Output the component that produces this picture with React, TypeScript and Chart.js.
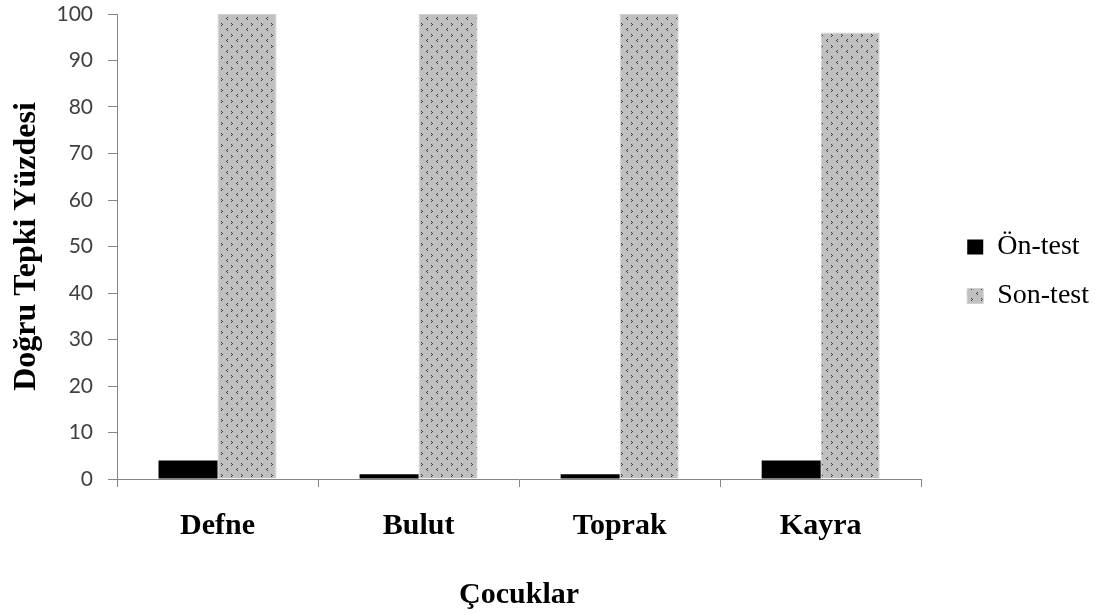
import React, { useEffect, useRef } from "react";
import { Chart, registerables } from "chart.js";

Chart.register(...registerables);

const categories = ["Defne", "Bulut", "Toprak", "Kayra"];
const seriesNames = ["Ön-test", "Son-test"];
const onTest = [4, 1, 1, 4];
const sonTest = [100, 100, 100, 96];
const yTicks = [0, 10, 20, 30, 40, 50, 60, 70, 80, 90, 100];
const yTitle = "Doğru Tepki Yüzdesi";
const xTitle = "Çocuklar";

function makePattern(): CanvasPattern | string {
  const tile = document.createElement("canvas");
  tile.width = 10;
  tile.height = 11;
  const c = tile.getContext("2d");
  if (!c) return "#c0c0c0";
  c.fillStyle = "#c0c0c0";
  c.fillRect(0, 0, 10, 11);
  c.fillStyle = "#3a3a3a";
  // ">" mark
  c.fillRect(1, 1, 1, 1);
  c.fillRect(2, 2, 1, 1);
  c.fillRect(1, 3, 1, 1);
  // "<" mark
  c.fillRect(7, 6, 1, 1);
  c.fillRect(6, 7, 1, 1);
  c.fillRect(7, 8, 1, 1);
  const main = document.createElement("canvas").getContext("2d");
  const p = main ? main.createPattern(tile, "repeat") : null;
  return p || "#c0c0c0";
}

export default function App() {
  const ref = useRef<HTMLCanvasElement | null>(null);
  useEffect(() => {
    if (!ref.current) return;
    const pattern = makePattern();
    const axisColor = "#868686";
    const chart = new Chart(ref.current, {
      type: "bar",
      data: {
        labels: categories,
        datasets: [
          {
            label: seriesNames[0],
            data: onTest,
            backgroundColor: "#000000",
            borderWidth: 0,
            categoryPercentage: 0.587,
            barPercentage: 1,
          },
          {
            label: seriesNames[1],
            data: sonTest,
            backgroundColor: pattern as any,
            borderColor: "#cfcfcf",
            borderWidth: 1,
            categoryPercentage: 0.587,
            barPercentage: 1,
          },
        ],
      },
      options: {
        animation: false,
        responsive: true,
        maintainAspectRatio: false,
        layout: { padding: { top: 14, left: 0, right: 8, bottom: 0 } },
        plugins: {
          tooltip: { enabled: false },
          legend: {
            position: "right",
            fullSize: false,
            maxWidth: 161,
            title: { display: true, text: "", font: { size: 20 }, padding: 13 },
            labels: {
              color: "#000000",
              font: { family: "'Liberation Serif', 'Times New Roman', serif", size: 28 },
              boxWidth: 16,
              boxHeight: 15,
              padding: 21,
            },
          },
        },
        scales: {
          x: {
            position: "bottom",
            grid: {
              display: true,
              drawOnChartArea: false,
              drawTicks: true,
              tickLength: 8,
              color: axisColor,
              offset: true,
            },
            border: { display: true, color: axisColor, width: 1 },
            ticks: {
              color: "#000000",
              padding: 21,
              font: { family: "'Liberation Serif', 'Times New Roman', serif", size: 30, weight: "bold" },
            },
            title: {
              display: true,
              text: xTitle,
              color: "#000000",
              padding: { top: 0, bottom: 2 },
              font: { family: "'Liberation Serif', 'Times New Roman', serif", size: 30, weight: "bold" },
            },
            afterFit: (s: any) => {
              s.height = 136;
            },
          },
          y: {
            position: "left",
            min: 0,
            max: 100,
            afterBuildTicks: (s: any) => {
              s.ticks = yTicks.map((v) => ({ value: v }));
            },
            grid: {
              display: true,
              drawOnChartArea: false,
              drawTicks: true,
              tickLength: 9,
              color: axisColor,
            },
            border: { display: true, color: axisColor, width: 1 },
            ticks: {
              color: "#404040",
              padding: 15,
              font: { family: "Lato, 'Open Sans', sans-serif", size: 21 },
            },
            title: {
              display: true,
              text: yTitle,
              color: "#000000",
              padding: { top: 8, bottom: 0 },
              font: { family: "'Liberation Serif', 'Times New Roman', serif", size: 32, weight: "bold" },
            },
            afterFit: (s: any) => {
              s.width = 117;
              s.paddingTop = 13;
              s.paddingBottom = 13;
            },
          },
          pad: {
            type: "linear",
            position: "right",
            display: true,
            grid: { display: false },
            border: { display: false },
            ticks: { display: false },
            afterFit: (s: any) => {
              s.width = 25;
              s.paddingTop = 0;
              s.paddingBottom = 0;
            },
          },
        },
      } as any,
    });
    return () => chart.destroy();
  }, []);
  return (
    <div style={{ position: "fixed", left: 0, top: 0, width: 1107, height: 615, background: "#ffffff" }}>
      <canvas ref={ref} />
    </div>
  );
}
